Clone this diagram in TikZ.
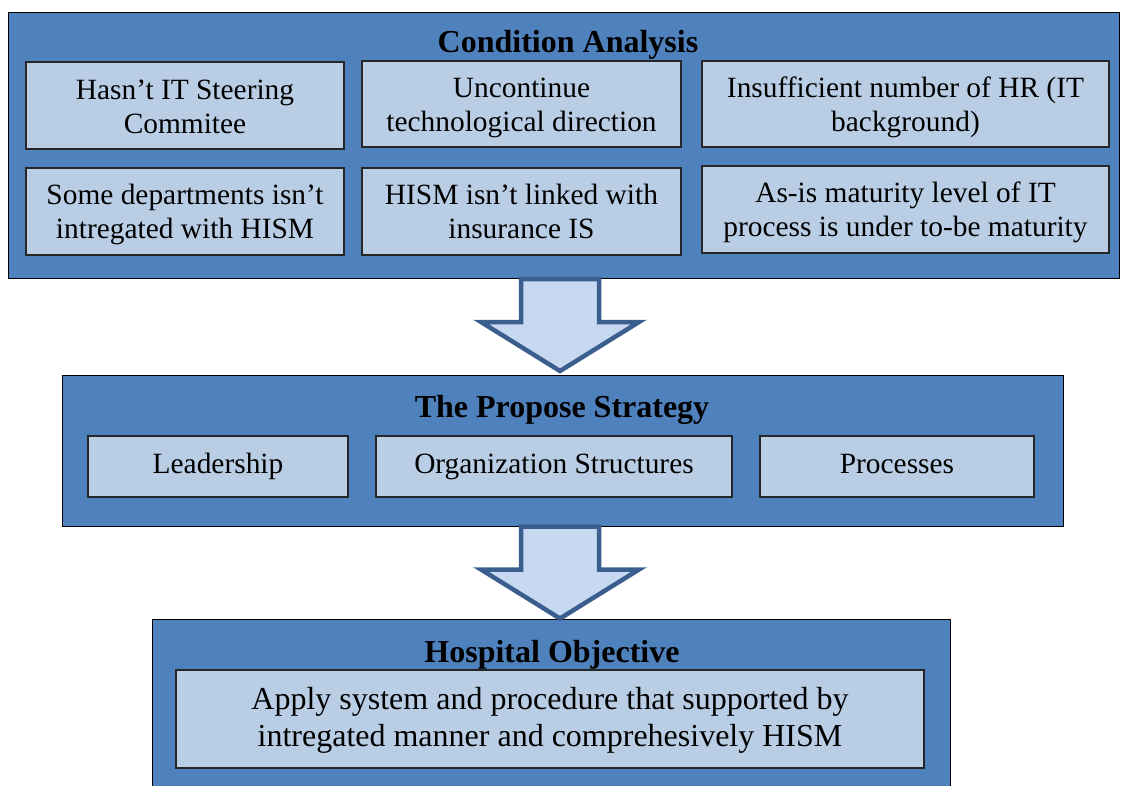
\documentclass[tikz,border=0pt]{standalone}
\usepackage{fontspec}
\setmainfont{Liberation Serif}
\usetikzlibrary{calc}

\definecolor{panelblue}{HTML}{4F81BD}
\definecolor{cellblue}{HTML}{B9CDE5}
\definecolor{arrowfill}{HTML}{C6D9F1}
\definecolor{arrowline}{HTML}{3A5F8E}

\tikzset{
  panel/.style={draw=black, line width=1pt, fill=panelblue},
  cell/.style={draw=black!85, line width=1.3pt, fill=cellblue, inner sep=0pt,
    align=center, font=\fontsize{29.4}{33.8}\selectfont},
  bigcell/.style={cell, font=\fontsize{32}{36.8}\selectfont},
  paneltitle/.style={anchor=base, inner sep=0pt, font=\fontsize{32}{36.8}\selectfont\bfseries},
  blockarrow/.style={draw=arrowline, line width=4.5pt, fill=arrowfill, line join=miter},
}

% first-line strut, taller by #1 so the text block sits a little lower in its cell
\newcommand\leadstrut[1]{\rule[-0.3\baselineskip]{0pt}{\dimexpr\baselineskip+#1pt\relax}}

% rectangle node from corner coordinates (pixel units)
\newcommand\cellbox[6]{%
  \node[#1, minimum width={(#4-#2)*1pt}, minimum height={(#5-#3)*1pt}]
    (#6) at ({(#2+#4)/2},{(#3+#5)/2}) {};}

% hollow down arrow hanging from the bottom of one panel towards the next
\newcommand\flowarrow[2]{%
  \path[blockarrow] let \p1=(#1.south) in
    ($(521pt,\y1)$) -- ++(0,-43pt) -- ++(-40pt,0) -- ++(79pt,-49pt)
    -- ++(79pt,49pt) -- ++(-40pt,0) -- ++(0,43pt) -- cycle;}

\begin{document}
\begin{tikzpicture}[x=1pt, y=-1pt]
\useasboundingbox (0,0) rectangle (1121,785);
\clip (0,0) rectangle (1121,785);

% ---- Condition Analysis ----
\cellbox{panel}{8}{12}{1119}{278.5}{ca}
\node[paneltitle] (catitle) at (568,52) {Condition Analysis};
\node[cell, minimum width=318pt, minimum height=87pt] (c1) at (185,105.5)
  {\leadstrut{9}Hasn’t IT Steering\\Commitee\strut};
\node[cell, minimum width=319pt, minimum height=86pt] (c2) at (521.5,104)
  {\leadstrut{8}Uncontinue\\technological direction\strut};
\node[cell, minimum width=407pt, minimum height=86pt] (c3) at (905.5,104)
  {\leadstrut{8}Insufficient number of HR (IT\\background)\strut};
\node[cell, minimum width=318pt, minimum height=87pt] (c4) at (185,211.5)
  {\leadstrut{6}Some departments isn’t\\intregated with HISM\strut};
\node[cell, minimum width=319pt, minimum height=87pt] (c5) at (521.5,211.5)
  {\leadstrut{6}HISM isn’t linked with\\insurance IS\strut};
\node[cell, minimum width=407pt, minimum height=87pt] (c6) at (905.5,209.5)
  {\leadstrut{6}As-is maturity level of IT\\process is under to-be maturity\strut};

% ---- The Propose Strategy ----
\cellbox{panel}{62}{375.5}{1063}{526}{ps}
\node[paneltitle] (pstitle) at (562,417) {The Propose Strategy};
\node[cell, minimum width=260pt, minimum height=61pt] (s1) at (218,466.5) {\strut Leadership};
\node[cell, minimum width=356pt, minimum height=61pt] (s2) at (554,466.5) {\strut Organization Structures};
\node[cell, minimum width=274pt, minimum height=61pt] (s3) at (897,466.5) {\strut Processes};

% ---- Hospital Objective ----
\cellbox{panel}{152}{619.5}{950}{810}{ho}
\node[paneltitle] (hotitle) at (552,662) {Hospital Objective};
\node[bigcell, minimum width=748pt, minimum height=98pt] (h1) at (550,719)
  {\leadstrut{4}Apply system and procedure that supported by\\intregated manner and comprehesively HISM\strut};

% ---- flow arrows ----
\flowarrow{ca}{ps}
\flowarrow{ps}{ho}
\end{tikzpicture}
\end{document}
